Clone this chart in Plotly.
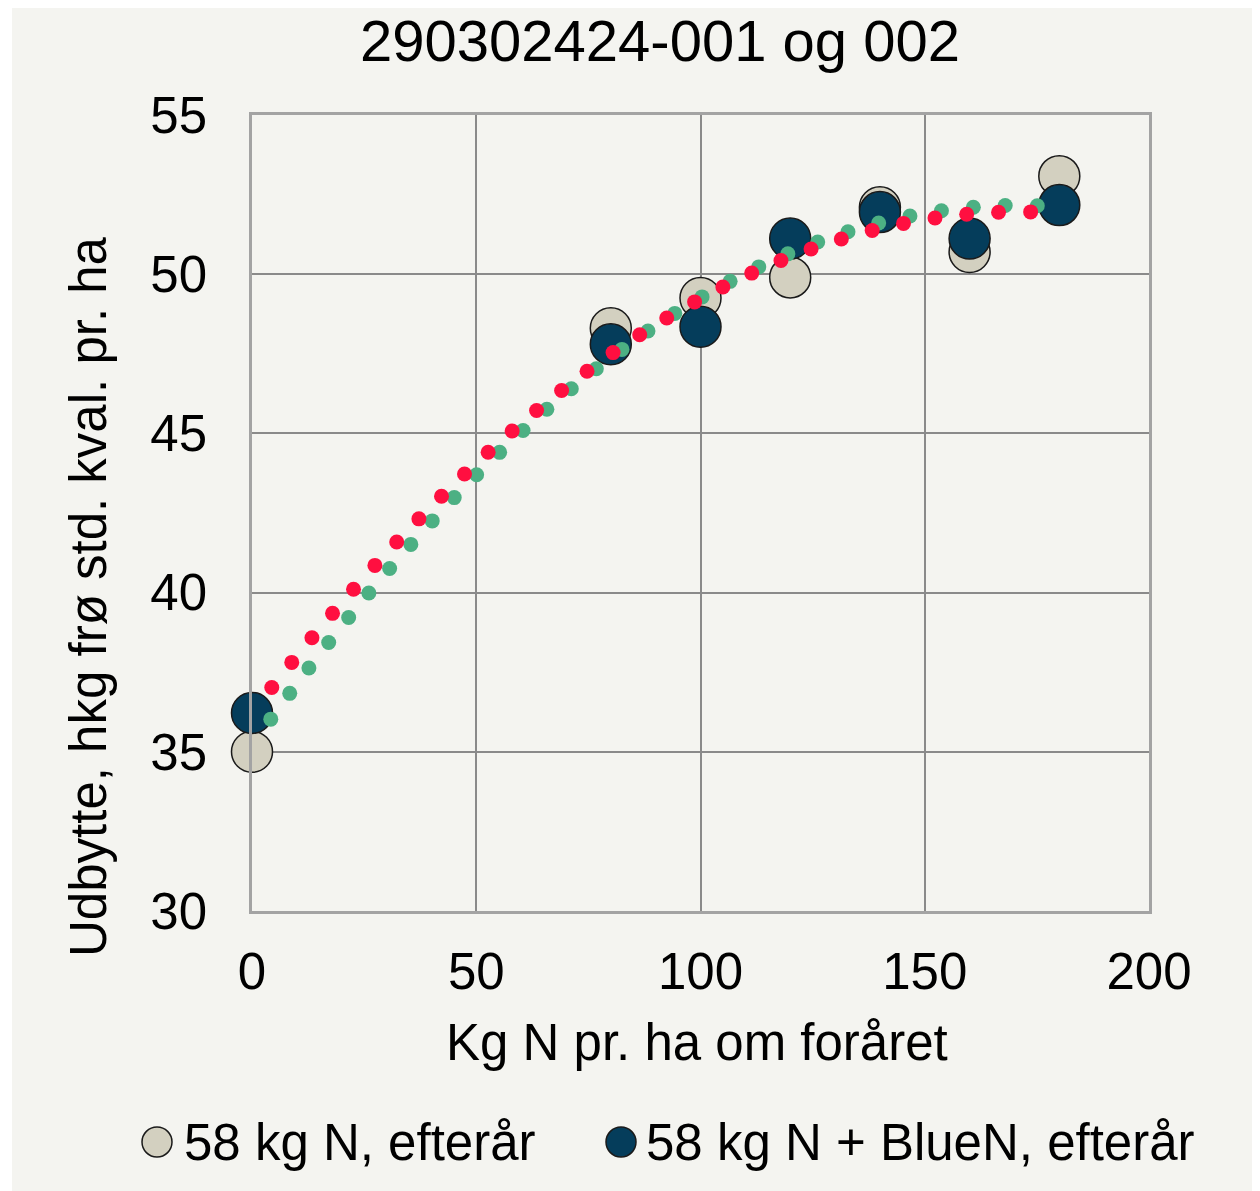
import numpy as np
import plotly.graph_objects as go

# ---- data ----
N_SPRING = [0, 80, 100, 120, 140, 160, 180]
YIELD_58N = [35.0, 48.3, 49.25, 49.9, 52.1, 50.7, 53.08]
YIELD_58N_BLUEN = [36.22, 47.8, 48.35, 51.12, 51.95, 51.12, 52.17]
SERIES_NAMES = ["58 kg N, efterår", "58 kg N + BlueN, efterår"]
X_TICKS = [0, 50, 100, 150, 200]
Y_TICKS = [30, 35, 40, 45, 50, 55]

TITLE = "290302424-001 og 002"
X_TITLE = "Kg N pr. ha om foråret"
Y_TITLE = "Udbytte, hkg frø std. kval. pr. ha"

# ---- style ----
OFF = 8  # browser body margin
W, H = 1260 - OFF, 1191 - OFF
ML, MR, MT, MB = 252 - OFF, 111, 115 - OFF, 280
PW, PH = W - ML - MR, H - MT - MB
X_RANGE = [0, 200]
Y_RANGE = [30, 55]
BG = "#f4f4f0"
BEIGE = "#d3d0c0"
NAVY = "#053d5b"
GREEN = "#4cb083"
RED = "#ff0f40"
FONT = "Liberation Sans, Arial, sans-serif"
FS = 51


def px_to_paper(px, py):
    """Reference-image pixel -> paper coordinates."""
    px -= OFF
    py -= OFF
    return (px - ML) / PW, (H - MB - py) / PH


def trend_dots(xv, yv, spacing_px=32.0):
    """Quadratic trendline (like Excel) drawn as round dots at equal on-screen spacing."""
    coef = np.polyfit(xv, yv, 2)
    xs = np.linspace(min(xv), max(xv), 4001)
    ys = np.polyval(coef, xs)
    sx = PW / (X_RANGE[1] - X_RANGE[0])
    sy = PH / (Y_RANGE[1] - Y_RANGE[0])
    seg = np.hypot(np.diff(xs) * sx, np.diff(ys) * sy)
    s = np.concatenate([[0], np.cumsum(seg)])
    targets = np.arange(spacing_px, s[-1] + 1e-9, spacing_px)
    idx = np.clip(np.searchsorted(s, targets), 0, len(xs) - 1)
    return xs[idx], ys[idx]


fig = go.Figure()

fig.add_trace(go.Scatter(
    x=N_SPRING, y=YIELD_58N, mode="markers", name=SERIES_NAMES[0],
    marker=dict(size=41, color=BEIGE, line=dict(color="#1a1a1a", width=1.5)),
    cliponaxis=False, showlegend=False))
fig.add_trace(go.Scatter(
    x=N_SPRING, y=YIELD_58N_BLUEN, mode="markers", name=SERIES_NAMES[1],
    marker=dict(size=41, color=NAVY, line=dict(color="#1a1a1a", width=1.5)),
    cliponaxis=False, showlegend=False))

gx, gy = trend_dots(N_SPRING, YIELD_58N)
fig.add_trace(go.Scatter(x=gx, y=gy, mode="markers", marker=dict(size=15, color=GREEN),
                         cliponaxis=False, showlegend=False, hoverinfo="skip"))
rx, ry = trend_dots(N_SPRING, YIELD_58N_BLUEN)
fig.add_trace(go.Scatter(x=rx, y=ry, mode="markers", marker=dict(size=15, color=RED),
                         cliponaxis=False, showlegend=False, hoverinfo="skip"))

shapes = []
# chart background panel (small white margin at left/top as in reference)
x0, y1 = px_to_paper(12, 8)
x1, y0 = px_to_paper(1260, 1191)
shapes.append(dict(type="rect", xref="paper", yref="paper", x0=x0, x1=x1, y0=y0, y1=y1,
                   fillcolor=BG, line=dict(width=0), layer="below"))

# custom legend (larger symbols than plotly's legend allows)
annotations = []
legend_items = [(157, 182, BEIGE, SERIES_NAMES[0]), (621, 644, NAVY, SERIES_NAMES[1])]
LEG_Y = 1142
for cx, tx, col, name in legend_items:
    ax0, ay1 = px_to_paper(cx - 15, LEG_Y - 15)
    ax1, ay0 = px_to_paper(cx + 15, LEG_Y + 15)
    shapes.append(dict(type="circle", xref="paper", yref="paper", x0=ax0, x1=ax1, y0=ay0, y1=ay1,
                       fillcolor=col, line=dict(color="#1a1a1a", width=1.5)))
    tx_p, ty_p = px_to_paper(tx, LEG_Y)
    annotations.append(dict(text=name, xref="paper", yref="paper", x=tx_p, y=ty_p,
                            xanchor="left", yanchor="middle", showarrow=False,
                            font=dict(size=FS, color="black", family=FONT)))

# y-axis title (centred lower than the plot centre, as in reference)
yt_x, yt_y = px_to_paper(88, 597)
annotations.append(dict(text=Y_TITLE, xref="paper", yref="paper", x=yt_x, y=yt_y,
                        xanchor="center", yanchor="middle", textangle=-90, showarrow=False,
                        font=dict(size=FS, color="black", family=FONT)))
# x-axis title
xt_x, xt_y = px_to_paper(697, 1042)
annotations.append(dict(text=X_TITLE, xref="paper", yref="paper", x=xt_x, y=xt_y,
                        xanchor="center", yanchor="middle", showarrow=False,
                        font=dict(size=FS, color="black", family=FONT)))

fig.update_layout(
    width=W, height=H,
    margin=dict(l=ML, r=MR, t=MT, b=MB, autoexpand=False),
    paper_bgcolor="white", plot_bgcolor="rgba(0,0,0,0)",
    font=dict(family=FONT, color="black"),
    title=dict(text=TITLE, x=(660 - OFF) / W, y=1 - (41 - OFF) / H, xanchor="center", yanchor="middle",
               font=dict(size=58, color="black", family=FONT)),
    shapes=shapes, annotations=annotations,
    showlegend=False,
)
fig.update_xaxes(range=X_RANGE, tickvals=X_TICKS, ticks="", showgrid=True,
                 gridcolor="#8a8a8a", gridwidth=1.5, zeroline=False,
                 showline=True, mirror=True, linecolor="#a3a3a3", linewidth=2.5,
                 tickfont=dict(size=FS, color="black", family=FONT), ticklabelstandoff=14)
fig.update_yaxes(range=Y_RANGE, tickvals=Y_TICKS, ticks="", showgrid=True,
                 gridcolor="#8a8a8a", gridwidth=1.5, zeroline=False,
                 showline=True, mirror=True, linecolor="#a3a3a3", linewidth=2.5,
                 tickfont=dict(size=FS, color="black", family=FONT), ticklabelstandoff=32)

fig.write_html("out.html")
